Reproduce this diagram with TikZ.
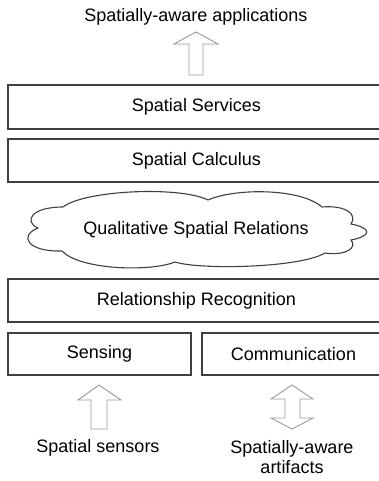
\documentclass[tikz,border=0pt]{standalone}
\usepackage{fontspec}
\setmainfont{Liberation Sans}
\usetikzlibrary{positioning}
\tikzset{>=stealth}
\tikzset{
  layer/.style={draw=black!75, line width=1.1pt, outer sep=0pt, inner sep=0pt,
    font=\fontsize{18}{21}\selectfont, anchor=north west},
  label/.style={font=\fontsize{18}{20}\selectfont, align=center, inner sep=0pt},
  blockarrow/.style={draw=black!40, line width=0.9pt, line join=miter},
  cloudline/.style={draw=black!75, line width=1.1pt},
}

\begin{document}
\begin{tikzpicture}[x=1pt, y=-1pt]
  \useasboundingbox (0,0) rectangle (379,481);
  % labels at top and bottom
  \node[label] (apps) at (196,17) {Spatially-aware applications};
  \node[label] (sensors) at (98,448) {Spatial sensors};
  \node[label] (artifacts) at (292,457) {Spatially-aware\\artifacts};
  % layers
  \node[layer, minimum width=377pt, minimum height=44pt] (services) at (8,85) {Spatial Services};
  \node[layer, minimum width=377pt, minimum height=43pt] (calculus) at (8,139) {Spatial Calculus};
  \node[label] (qsr) at (196,230) {Qualitative Spatial Relations};
  \node[layer, minimum width=377pt, minimum height=43pt] (recog) at (8,279) {Relationship Recognition};
  \node[layer, minimum width=183pt, minimum height=42pt] (sensing) at (8,333) {Sensing};
  \node[layer, minimum width=183pt, minimum height=42pt] (comm) at (202,333) {Communication};
  % cloud round the relations
  \draw[cloudline] (38,228) .. controls (24,222) and (30,207) .. (63,207)
    .. controls (85,190) and (180,186) .. (208,200)
    .. controls (235,188) and (300,188) .. (322,207)
    .. controls (345,205) and (358,214) .. (351,224)
    .. controls (372,228) and (372,236) .. (351,240)
    .. controls (358,248) and (345,256) .. (325,253)
    .. controls (300,268) and (200,270) .. (175,262)
    .. controls (150,272) and (80,270) .. (62,251)
    .. controls (28,252) and (18,236) .. cycle;
  % block arrows
  \draw[blockarrow] (196,32) -- (218,44) -- (203,44) -- (203,75) -- (189,75)
    -- (189,44) -- (174,44) -- cycle;
  \draw[blockarrow] (99,385) -- (121,400) -- (107,400) -- (107,429) -- (91,429)
    -- (91,400) -- (78,400) -- cycle;
  \draw[blockarrow] (292,385) -- (313,399) -- (300,399) -- (300,418) -- (313,418)
    -- (292,429) -- (271,418) -- (285,418) -- (285,399) -- (271,399) -- cycle;
\end{tikzpicture}
\end{document}
